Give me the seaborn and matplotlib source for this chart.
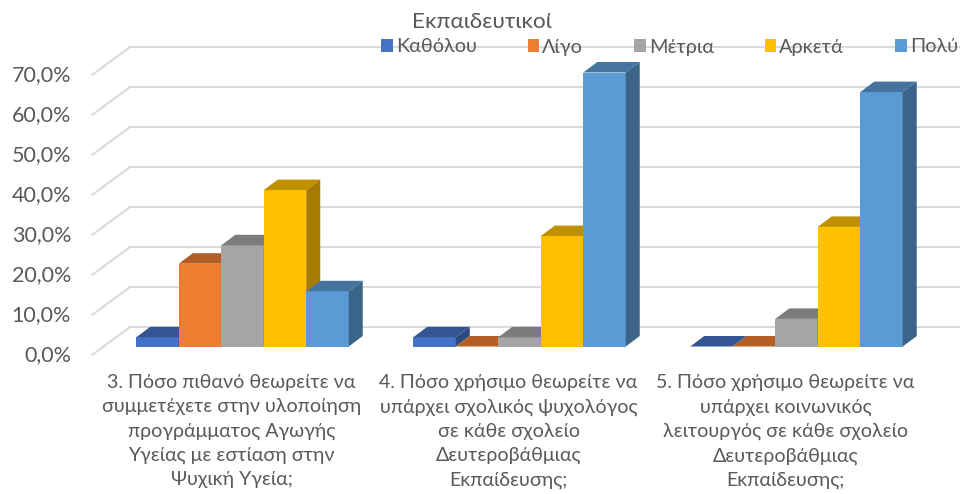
import matplotlib
matplotlib.use("Agg")
import matplotlib.pyplot as plt
import matplotlib.transforms as mtrans
from matplotlib.patches import Polygon
import pandas as pd
import seaborn as sns

questions = [
    "3. Πόσο πιθανό θεωρείτε να\nσυμμετέχετε στην υλοποίηση\nπρογράμματος Αγωγής\nΥγείας με εστίαση στην\nΨυχική Υγεία;",
    "4. Πόσο χρήσιμο θεωρείτε να\nυπάρχει σχολικός ψυχολόγος\nσε κάθε σχολείο\nΔευτεροβάθμιας\nΕκπαίδευσης;",
    "5. Πόσο χρήσιμο θεωρείτε να\nυπάρχει κοινωνικός\nλειτουργός σε κάθε σχολείο\nΔευτεροβάθμιας\nΕκπαίδευσης;",
]
answers = ["Καθόλου", "Λίγο", "Μέτρια", "Αρκετά", "Πολύ"]
katholou = [2.3, 2.3, 0.0]
ligo = [20.7, 0.0, 0.0]
metria = [25.3, 2.3, 6.9]
arketa = [39.1, 27.6, 29.9]
poly = [13.8, 68.5, 63.6]
front_colors = ["#4472C4", "#ED7D31", "#A5A5A5", "#FFC000", "#5B9BD5"]
top_colors = ["#335593", "#B25E25", "#7C7C7C", "#BF9000", "#44749F"]
side_colors = ["#2C4A80", "#9A5120", "#6B6B6B", "#A67C00", "#3B6488"]
y_ticks = list(range(0, 80, 10))
title = "Εκπαιδευτικοί"

FONT = "Lato"
TXT = "#595959"
W, H = 960, 494
PX_X, PX_Y = 277.0, 4.0          # pixels per category / per percentage point
AX_L, AX_BASE, AX_TOP = 92, 346.5, 2.5

sns.set_theme(style="white")
plt.rcParams["font.family"] = [FONT, "DejaVu Sans"]

fig = plt.figure(figsize=(W / 100, H / 100), dpi=100)
ax = fig.add_axes([AX_L / W, (H - AX_BASE) / H, (W - AX_L) / W, (AX_BASE - AX_TOP) / H])

rows = [(q, a, v) for a, vals in zip(answers, [katholou, ligo, metria, arketa, poly])
        for q, v in zip(questions, vals)]
df = pd.DataFrame(rows, columns=["q", "a", "v"])
sns.barplot(data=df, x="q", y="v", hue="a", hue_order=answers, order=questions,
            palette=front_colors, width=0.767, gap=0, saturation=1,
            linewidth=0, ax=ax, legend=False)

ax.set_xlim((AX_L - 242.5) / PX_X, (W - 242.5) / PX_X)
ax.set_ylim(0, (AX_BASE - AX_TOP) / PX_Y)
sns.despine(ax=ax, left=True, bottom=True)
ax.set_xlabel("")
ax.set_ylabel("")

# Pseudo-3D faces derived from each bar's geometry
bdx, bdy = 14 / PX_X, 10.5 / PX_Y
for i, cont in enumerate(ax.containers):
    for bar in cont:
        bar.set_zorder(3 + i)
        x0, x1 = bar.get_x(), bar.get_x() + bar.get_width()
        h = bar.get_height()
        ax.add_patch(Polygon([(x0, h), (x1, h), (x1 + bdx, h + bdy), (x0 + bdx, h + bdy)],
                             closed=True, fc=top_colors[i], ec="none", zorder=3 + i, clip_on=False))
        if h > 0:
            ax.add_patch(Polygon([(x1, 0), (x1 + bdx, bdy), (x1 + bdx, h + bdy), (x1, h)],
                                 closed=True, fc=side_colors[i], ec="none", zorder=3 + i, clip_on=False))

# Wall and side gridlines
x_l = ax.get_xlim()[0]
x_b = x_l + 38 / PX_X
x_r = ax.get_xlim()[1]
for v in y_ticks:
    ax.plot([x_l, x_b, x_r], [v - 8.5 / PX_Y, v + 19.5 / PX_Y, v + 19.5 / PX_Y],
            color="#D9D9D9", lw=1.4, zorder=1, clip_on=False, solid_joinstyle="miter")

# Axis labels
ax.set_yticks(y_ticks)
ax.set_yticklabels([f"{v:.1f}%".replace(".", ",") for v in y_ticks], fontsize=15.5, color=TXT)
ax.tick_params(axis="y", length=0, pad=15)
ax.tick_params(axis="x", length=0, pad=20)
ax.set_xticks(range(len(questions)))
ax.set_xticklabels(questions, fontsize=14.15, color=TXT, linespacing=1.5, ha="center")
down = mtrans.ScaledTranslation(0, -6.5 / 100, fig.dpi_scale_trans)
left = mtrans.ScaledTranslation(-11 / 100, 0, fig.dpi_scale_trans)
for t in ax.get_yticklabels():
    t.set_transform(t.get_transform() + down)
for t in ax.get_xticklabels():
    t.set_transform(t.get_transform() + left)

# Legend and title
handles = [plt.Rectangle((0, 0), 1, 1, fc=c, ec="none") for c in front_colors]
leg = fig.legend(handles, answers, ncol=5, loc="center left",
                 bbox_to_anchor=(381 / W, (H - 47) / H), frameon=False,
                 fontsize=14.3, labelcolor=TXT, handlelength=0.6, handleheight=0.6,
                 handletextpad=0.15, columnspacing=2.55, borderpad=0, borderaxespad=0)
fig.text(482 / W, (H - 22) / H, title, ha="center", va="center", fontsize=16.2, color=TXT)

fig.savefig("out.png", dpi=100, facecolor="white")
